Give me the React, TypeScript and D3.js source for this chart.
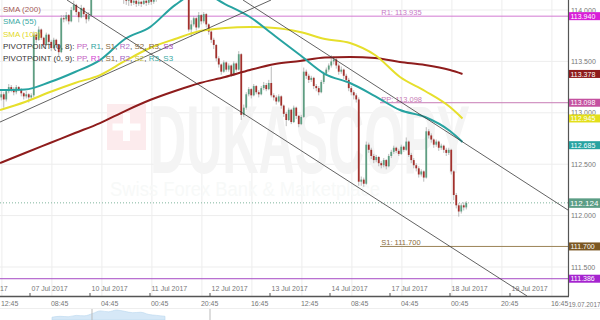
import React from 'react';
import * as d3 from 'd3';

const W = 600;
const H = 320;
const PLOT_R = 568;
const PLOT_B = 296;

// hourly candles, index 0 = 06 Jul 2017 12:00 (weekends removed)
const firstOpen = 113.15;
const closes = [
  113.18,113.13,113.21,113.25,113.23,113.20,113.25,113.23,113.19,113.16,113.18,113.15,113.17,
  113.76,113.71,113.81,113.73,113.66,113.76,113.69,113.63,113.71,113.66,113.59,
  113.92,113.91,113.95,113.89,114.00,114.05,113.98,113.93,114.02,113.96,113.91,113.95,
  114.20,114.25,114.30,114.28,114.32,114.35,114.30,114.27,114.33,114.30,114.26,114.22,114.18,
  114.12,114.09,114.10,114.07,114.09,114.06,114.08,114.06,114.09,114.07,114.10,114.08,114.11,114.14,
  114.18,114.22,114.25,114.28,114.24,114.30,114.27,114.25,114.22,114.26,114.20,114.15,
  113.81,113.86,113.92,113.83,113.95,113.89,113.96,
  113.86,113.79,113.71,113.66,113.53,
  113.47,113.40,113.49,113.42,113.46,113.37,113.48,113.42,
  113.57,112.98,
  113.05,113.18,113.23,113.17,113.26,113.20,113.18,113.24,113.27,113.23,113.29,
  113.17,113.15,113.11,113.16,113.07,
  112.99,112.93,113.03,112.91,113.05,112.97,112.89,112.96,
  113.40,113.36,113.32,113.34,113.26,113.24,113.20,
  113.30,113.38,113.42,113.46,113.50,113.52,
  113.46,113.40,113.42,113.36,113.32,113.24,113.20,113.17,
  113.13,112.33,112.35,112.31,
  112.69,112.64,112.58,112.54,112.57,112.51,112.49,112.54,112.48,
  112.58,112.62,112.66,112.63,112.60,112.67,112.64,112.72,
  112.59,112.54,112.49,112.46,112.40,112.43,112.37,
  112.82,112.78,
  112.74,112.69,112.72,112.66,112.68,112.64,112.61,112.64,
  112.43,112.20,112.10,112.04,112.10,112.08,112.124,
];
const highs = [
  113.21,113.20,113.23,113.28,113.27,113.25,113.27,113.26,113.24,113.20,113.21,113.19,113.19,
  113.79,113.78,113.84,113.82,113.74,113.78,113.77,113.71,113.73,113.72,113.67,
  113.95,113.95,113.98,113.96,114.03,114.09,114.06,113.99,114.05,114.03,113.97,113.98,
  114.24,114.29,114.33,114.32,114.35,114.38,114.36,114.31,114.35,114.34,114.31,114.27,114.23,
  114.19,114.13,114.12,114.11,114.11,114.10,114.10,114.09,114.11,114.10,114.12,114.11,114.13,114.17,
  114.21,114.25,114.28,114.31,114.29,114.33,114.31,114.29,114.26,114.28,114.27,114.21,
  114.17,113.90,113.94,113.93,113.98,113.96,113.98,
  113.97,113.87,113.80,113.73,113.67,
  113.55,113.48,113.51,113.50,113.48,113.47,113.50,113.49,
  113.60,113.58,
  113.08,113.20,113.25,113.24,113.28,113.27,113.22,113.26,113.30,113.29,113.32,
  113.45,113.19,113.17,113.18,113.17,
  113.08,113.01,113.05,113.04,113.07,113.06,112.98,112.98,
  113.44,113.42,113.38,113.36,113.35,113.28,113.26,
  113.32,113.40,113.44,113.48,113.56,113.55,
  113.53,113.48,113.45,113.43,113.38,113.34,113.26,113.22,
  113.19,113.15,112.38,112.37,
  112.72,112.71,112.66,112.60,112.59,112.58,112.53,112.56,112.55,
  112.60,112.64,112.68,112.67,112.65,112.69,112.68,112.76,
  112.73,112.61,112.56,112.51,112.48,112.45,112.44,
  112.86,112.84,
  112.80,112.75,112.74,112.73,112.70,112.69,112.66,112.66,
  112.65,112.44,112.22,112.12,112.12,112.13,112.14,
];
const lows = [
  113.12,113.05,113.11,113.19,113.20,113.17,113.18,113.21,113.16,113.13,113.14,113.10,113.13,
  113.15,113.68,113.70,113.71,113.63,113.65,113.67,113.60,113.62,113.63,113.55,
  113.58,113.88,113.89,113.86,113.88,113.99,113.95,113.88,113.92,113.93,113.87,113.89,
  113.94,114.18,114.23,114.25,114.27,114.30,114.28,114.24,114.26,114.27,114.23,114.19,114.14,
  114.06,114.05,114.04,114.04,114.05,114.03,114.04,114.03,114.05,114.04,114.05,114.05,114.06,114.08,
  114.13,114.17,114.20,114.24,114.21,114.23,114.25,114.22,114.19,114.21,114.17,114.12,
  113.79,113.74,113.84,113.80,113.82,113.86,113.87,
  113.83,113.76,113.68,113.62,113.50,
  113.44,113.37,113.39,113.40,113.40,113.35,113.36,113.40,
  113.41,112.93,
  112.96,113.03,113.16,113.14,113.16,113.18,113.15,113.17,113.22,113.21,113.22,
  113.15,113.12,113.08,113.10,113.04,
  112.96,112.87,112.92,112.89,112.90,112.94,112.86,112.88,
  112.95,113.33,113.29,113.30,113.23,113.21,113.17,
  113.19,113.28,113.36,113.40,113.44,113.47,
  113.43,113.37,113.38,113.33,113.29,113.21,113.17,113.13,
  113.10,112.29,112.29,112.28,
  112.30,112.61,112.55,112.51,112.52,112.48,112.46,112.47,112.45,
  112.47,112.56,112.60,112.61,112.58,112.59,112.62,112.63,
  112.57,112.51,112.46,112.43,112.37,112.38,112.33,
  112.36,112.75,
  112.71,112.66,112.67,112.63,112.64,112.61,112.58,112.59,
  112.40,112.15,112.07,111.99,112.02,112.05,112.06,
];

// moving averages
const smaIdx = [0,10,20,30,40,50,60,70,80,90,100,110,120,130,140,150,160,170,180,185];
const sma200 = [112.511,112.609,112.706,112.803,112.900,113.017,113.124,113.212,113.290,113.348,113.416,113.474,113.504,113.538,113.543,113.533,113.494,113.465,113.416,113.378];
const sma55 = [113.221,113.226,113.299,113.397,113.513,113.718,113.834,114.048,114.175,114.058,113.932,113.747,113.562,113.377,113.290,113.163,113.027,112.959,112.823,112.716];
const sma100 = [113.027,113.105,113.202,113.290,113.367,113.504,113.630,113.718,113.795,113.825,113.834,113.825,113.786,113.718,113.679,113.562,113.348,113.212,113.056,112.945];

// trend lines (time index, price)
const trendX1 = [0, 26.8, 97.2];
const trendP1 = [112.91, 114.097, 114.097];
const trendX2 = [108.4, 210.8, 227.2];
const trendP2 = [114.097, 111.218, 112.054];

// pivot levels
const pivotValues = [113.94, 113.098, 111.7, 111.386];
const pivotStart = [0, 152, 152, 0];
const pivotLabels = ['R1: 113.935', 'PP: 113.098', 'S1: 111.700', ''];
const pivotColors = ['#d27ad2', '#c77bb5', '#9c8357', '#a64ac4'];
const pivotTextColors = ['#c77ac7', '#c77bb5', '#8a6b3c', '#a64ac4'];

const lastPrice = 112.124;

const priceTicks = [114, 113.5, 113, 112.5, 112, 111.5];
const dateTickIdx = [-12, 12, 36, 60, 84, 108, 132, 156, 180, 204];
const dateLabels = ['06 Jul 2017','07 Jul 2017','10 Jul 2017','11 Jul 2017','12 Jul 2017','13 Jul 2017','14 Jul 2017','17 Jul 2017','18 Jul 2017','19 Jul 2017'];
const timeTickIdx = [0.75,20.75,40.75,60.75,80.75,100.75,120.75,140.75,160.75,180.75,200.75,220.75];
const timeLabels = ['12:45','08:45','04:45','00:45','20:45','16:45','12:45','08:45','04:45','00:45','20:45','16:45'];

const boxValues = [113.94, 113.378, 113.098, 112.945, 112.685, 111.7, 111.386];
const boxLabels = ['113.940','113.378','113.098','112.945','112.685','111.700','111.386'];
const boxColors = ['#d81fd8', '#8e1c1c', '#c451a0', '#e3df1a', '#27a3a1', '#7b5722', '#a524cf'];

// navigator strip
const navValues = [0.2, 0.3, 0.25, 0.4, 0.35, 0.6, 0.9, 0.8, 1.0, 0.85, 0.7, 0.75, 0.5, 0.4, 0.3];

const FONT = '"Liberation Sans", Arial, sans-serif';

export default function App() {
  const x = d3.scaleLinear().domain([0, 227.2]).range([0, PLOT_R]);
  const y = d3.scaleLinear().domain([111.5, 114]).range([267, 10]);

  const candles = closes.map((c, i) => ({
    i,
    o: i === 0 ? firstOpen : closes[i - 1],
    c,
    h: highs[i],
    l: lows[i],
  }));

  const smaLine = (vals: number[]) =>
    d3
      .line<number>()
      .x((_, k) => x(smaIdx[k]))
      .y((v) => y(v))
      .curve(d3.curveMonotoneX)(vals) || '';

  const navX = d3.scaleLinear().domain([0, navValues.length - 1]).range([52, 165]);
  const navArea =
    d3
      .area<number>()
      .x((_, k) => navX(k))
      .y0(320)
      .y1((v) => 319 - v * 9)
      .curve(d3.curveMonotoneX)(navValues) || '';

  return (
    <svg
      width={W}
      height={H}
      style={{ position: 'absolute', left: 0, top: 0, background: '#fff' }}
      fontFamily={FONT}
    >
      <defs>
        <clipPath id="plot">
          <rect x={0} y={0} width={PLOT_R} height={PLOT_B} />
        </clipPath>
      </defs>
      <rect x={0} y={0} width={W} height={H} fill="#fff" />

      {/* grid */}
      {priceTicks.map((p) => (
        <line key={'hg' + p} x1={0} x2={PLOT_R} y1={y(p)} y2={y(p)} stroke="#ededed" strokeWidth={1} />
      ))}
      {timeTickIdx.map((t) => (
        <line key={'vg' + t} x1={x(t)} x2={x(t)} y1={0} y2={PLOT_B} stroke="#ededed" strokeWidth={1} />
      ))}

      {/* watermark */}
      <g>
        <rect x={107} y={104} width={39} height={46} fill="#fcebed" />
        <rect x={123} y={113} width={7} height={28} fill="#fff" />
        <rect x={112.5} y={123.5} width={28} height={7} fill="#fff" />
        <text x={150} y={173} fontSize={97} fontWeight="bold" fill="#f4f4f4" textLength={320} lengthAdjust="spacingAndGlyphs">
          DUKASCOPY
        </text>
        <text x={110} y={196} fontSize={20} fill="#f7f9f8" textLength={270} lengthAdjust="spacingAndGlyphs">
          Swiss Forex Bank &amp; Marketplace
        </text>
      </g>

      <g clipPath="url(#plot)">
        {/* pivot lines */}
        {pivotValues.map((p, k) => (
          <line key={'pv' + k} x1={x(pivotStart[k])} x2={PLOT_R} y1={y(p)} y2={y(p)} stroke={pivotColors[k]} strokeWidth={1} />
        ))}
        {pivotLabels.map((t, k) =>
          t ? (
            <text key={'pl' + k} x={x(pivotStart[k] === 0 ? 152.5 : pivotStart[k] + 0.5)} y={y(pivotValues[k]) - 1} fontSize={7.5} fill={pivotTextColors[k]}>
              {t}
            </text>
          ) : null
        )}
        {/* last price dotted */}
        <line x1={0} x2={PLOT_R} y1={y(lastPrice)} y2={y(lastPrice)} stroke="#7fb49c" strokeWidth={1} strokeDasharray="1,2" />

        {/* candles */}
        {candles.map((d) => {
          const cx = x(d.i + 0.5);
          const up = d.c >= d.o;
          const top = y(Math.max(d.o, d.c));
          const bh = Math.max(1, Math.abs(y(d.o) - y(d.c)));
          return (
            <g key={'c' + d.i}>
              <line x1={cx} x2={cx} y1={y(d.h)} y2={y(d.l)} stroke="#a8a8a8" strokeWidth={0.8} />
              <rect x={cx - 0.9} y={top} width={1.8} height={bh} fill={up ? '#5e9e82' : '#a3302c'} />
            </g>
          );
        })}

        {/* SMAs */}
        <path d={smaLine(sma200)} fill="none" stroke="#8e1c1c" strokeWidth={2} />
        <path d={smaLine(sma100)} fill="none" stroke="#e6df2c" strokeWidth={2} />
        <path d={smaLine(sma55)} fill="none" stroke="#27a3a1" strokeWidth={2} />

        {/* trend lines */}
        {trendX1.map((t, k) => (
          <line key={'tl' + k} x1={x(t)} y1={y(trendP1[k])} x2={x(trendX2[k])} y2={y(trendP2[k])} stroke="#3a3a3a" strokeWidth={0.8} />
        ))}
      </g>

      {/* legend */}
      <g fontSize={8}>
        <text x={3} y={11.5} fill="#a45a5a">SMA (200)</text>
        <text x={3} y={24} fill="#3aa9a3">SMA (55)</text>
        <text x={3} y={36.5} fill="#e2d91f">SMA (100)</text>
        <text x={3} y={48.5} fill="#333">
          PIVOTPOINT (0, 8): <tspan fill="#c35fc3">PP</tspan>, <tspan fill="#2fa3a0">R1</tspan>, <tspan fill="#8a6b3c">S1</tspan>, <tspan fill="#b06fc4">R2</tspan>, <tspan fill="#8a6b3c">S2</tspan>, <tspan fill="#8a6b3c">R3</tspan>, <tspan fill="#a64ac4">S3</tspan>
        </text>
        <text x={3} y={61} fill="#333">
          PIVOTPOINT (0, 9): <tspan fill="#c35fc3">PP</tspan>, <tspan fill="#d23fd2">R1</tspan>, <tspan fill="#8a6b3c">S1</tspan>, <tspan fill="#a064c4">R2</tspan>, <tspan fill="#c9c23a">S2</tspan>, <tspan fill="#3aa9a3">R3</tspan>, <tspan fill="#3aa9a3">S3</tspan>
        </text>
      </g>

      {/* right axis */}
      <line x1={PLOT_R + 0.5} x2={PLOT_R + 0.5} y1={0} y2={PLOT_B} stroke="#555" strokeWidth={1.2} />
      {priceTicks.map((p) => (
        <text key={'pt' + p} x={571} y={y(p) + 2.5} fontSize={7} fill="#777">
          {p.toFixed(3)}
        </text>
      ))}
      {boxValues.map((v, k) => (
        <g key={'bx' + k}>
          <rect x={569} y={y(v) - 4} width={31} height={8} fill={boxColors[k]} />
          <text x={570.5} y={y(v) + 2.6} fontSize={7} fill="#fff">
            {boxLabels[k]}
          </text>
        </g>
      ))}
      <rect x={569} y={y(lastPrice) - 4.5} width={31} height={9.5} fill="#5b9d85" />
      <text x={570} y={y(lastPrice) + 3.1} fontSize={8} fill="#fff">
        {lastPrice.toFixed(3)}
      </text>

      {/* bottom axis */}
      <line x1={0} x2={PLOT_R + 1} y1={PLOT_B + 0.5} y2={PLOT_B + 0.5} stroke="#555" strokeWidth={1.5} />
      {dateTickIdx.map((t, k) => (
        <g key={'dt' + k}>
          <line x1={x(t)} x2={x(t)} y1={PLOT_B - 3} y2={PLOT_B} stroke="#555" strokeWidth={1} />
          <text x={x(t) + 1.5} y={291} fontSize={7} fill="#777">
            {dateLabels[k]}
          </text>
        </g>
      ))}
      {timeTickIdx.map((t, k) => (
        <text key={'tt' + k} x={x(t) - 1} y={306} fontSize={7} fill="#777">
          {timeLabels[k]}
        </text>
      ))}
      <text x={568.5} y={306.5} fontSize={6.4} fill="#777">19.07.2017</text>

      {/* navigator */}
      <line x1={0} x2={W} y1={308.5} y2={308.5} stroke="#eeeeee" strokeWidth={1} />
      <path d={navArea} fill="#d6e8f7" stroke="#b9d6ee" strokeWidth={0.6} />
      <line x1={92} x2={92} y1={309} y2={320} stroke="#bbb" strokeWidth={1} />
      <line x1={210} x2={210} y1={309} y2={320} stroke="#bbb" strokeWidth={1} />
    </svg>
  );
}
